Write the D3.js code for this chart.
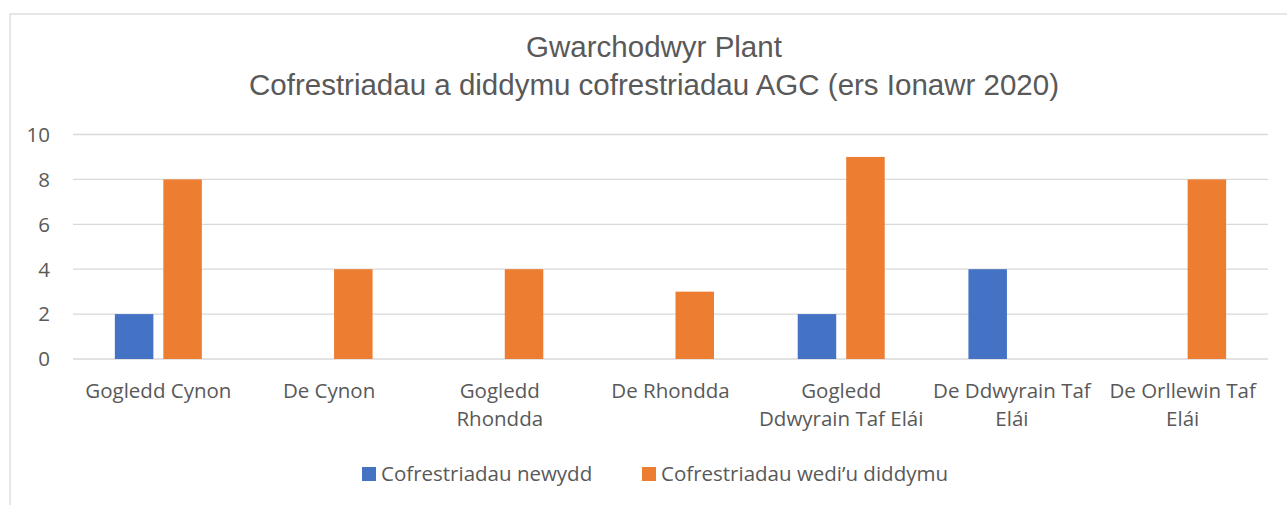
<!DOCTYPE html>
<html>
<head>
<meta charset="utf-8">
<script src="https://cdn.jsdelivr.net/npm/d3@7.9.0/dist/d3.min.js"></script>
<style>
  body { margin: 0; background: #fff; }
  svg { display: block; }
</style>
</head>
<body>
<svg width="1287" height="505"></svg>
<script>
// data
const categories = [
  ['Gogledd Cynon'],
  ['De Cynon'],
  ['Gogledd', 'Rhondda'],
  ['De Rhondda'],
  ['Gogledd', 'Ddwyrain Taf Elái'],
  ['De Ddwyrain Taf', 'Elái'],
  ['De Orllewin Taf', 'Elái'],
];
const seriesNames = ['Cofrestriadau newydd', 'Cofrestriadau wedi’u diddymu'];
const newReg = [2, 0, 0, 0, 2, 4, 0];
const cancelled = [8, 4, 4, 3, 9, 0, 8];
const yTicks = [0, 2, 4, 6, 8, 10];
const colors = ['#4472c4', '#ed7d31'];

const svg = d3.select('svg');
const textColor = '#595959';
const labelFont = '"Open Sans", "Noto Sans", sans-serif';

// chart frame
svg.append('rect')
  .attr('x', 10).attr('y', 14)
  .attr('width', 1300).attr('height', 520)
  .attr('fill', '#fff')
  .attr('stroke', '#d9d9d9').attr('stroke-width', 1.3);

// title
const title = svg.append('text')
  .attr('text-anchor', 'middle')
  .attr('fill', textColor)
  .style('font-family', '"Liberation Sans", Arial, sans-serif')
  .style('font-size', '29.5px');
title.append('tspan').attr('x', 654).attr('y', 57).text('Gwarchodwyr Plant');
title.append('tspan').attr('x', 654).attr('y', 95).text('Cofrestriadau a diddymu cofrestriadau AGC (ers Ionawr 2020)');

// scales
const x0 = d3.scaleBand().domain(d3.range(categories.length)).range([73, 1268]);
const x1 = d3.scaleBand().domain([0, 1]).range([-43.5, 43.5]).paddingInner(0.206);
const y = d3.scaleLinear().domain([0, 10]).range([359, 134.5]);

// gridlines + y labels
const yAxis = svg.append('g');
yAxis.selectAll('line').data(yTicks).join('line')
  .attr('x1', 73).attr('x2', 1268)
  .attr('y1', d => y(d)).attr('y2', d => y(d))
  .attr('stroke', '#d9d9d9').attr('stroke-width', 1.3);
yAxis.selectAll('text').data(yTicks).join('text')
  .attr('x', 50).attr('y', d => y(d))
  .attr('dy', '0.36em')
  .attr('text-anchor', 'end')
  .attr('fill', textColor)
  .style('font-family', labelFont)
  .style('font-size', '20.5px')
  .text(d => d);

// bars
const series = [newReg, cancelled];
series.forEach((vals, s) => {
  svg.append('g').selectAll('rect').data(vals).join('rect')
    .attr('x', (d, i) => x0(i) + x0.bandwidth() / 2 + x1(s))
    .attr('y', d => y(d))
    .attr('width', x1.bandwidth())
    .attr('height', d => y(0) - y(d))
    .attr('fill', colors[s]);
});

// category labels
const cat = svg.append('g');
categories.forEach((lines, i) => {
  const t = cat.append('text')
    .attr('text-anchor', 'middle')
    .attr('fill', textColor)
    .style('font-family', labelFont)
    .style('font-size', '20.5px');
  lines.forEach((l, j) => {
    t.append('tspan')
      .attr('x', x0(i) + x0.bandwidth() / 2)
      .attr('y', 398 + j * 28)
      .text(l);
  });
});

// legend
const legendX = [362, 642];
seriesNames.forEach((name, s) => {
  svg.append('rect')
    .attr('x', legendX[s]).attr('y', 467)
    .attr('width', 14).attr('height', 14)
    .attr('fill', colors[s]);
  svg.append('text')
    .attr('x', legendX[s] + 19).attr('y', 481)
    .attr('fill', textColor)
    .style('font-family', labelFont)
    .style('font-size', '20.5px')
    .text(name);
});
</script>
</body>
</html>
